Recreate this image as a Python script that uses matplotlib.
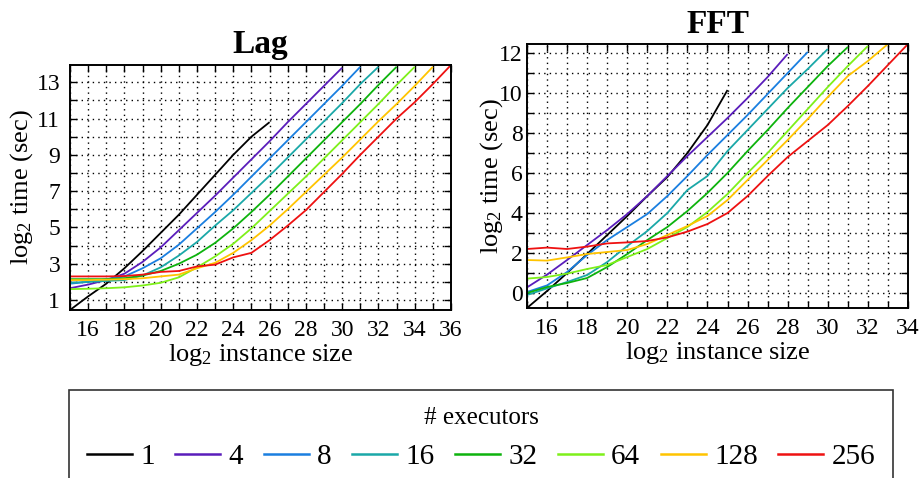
import matplotlib
matplotlib.use("Agg")
import matplotlib.pyplot as plt
from matplotlib.ticker import MultipleLocator
from matplotlib.lines import Line2D

plt.rcParams['font.family'] = ['Liberation Serif', 'DejaVu Serif']
plt.rcParams['mathtext.fontset'] = 'custom'
plt.rcParams['mathtext.rm'] = 'Liberation Serif'
plt.rcParams['mathtext.it'] = 'Liberation Serif:italic'

executors = ['1', '4', '8', '16', '32', '64', '128', '256']
colors = ['#000000', '#5a1dbb', '#1a7fe0', '#1aa8a8', '#0db30d', '#7ef01a', '#ffc400', '#ee1111']

# Lag: log2 time per log2 instance size, starting at size 15
lag_1 = [0.45, 1.2, 1.9, 2.75, 3.7, 4.7, 5.7, 6.8, 7.9, 9.0, 10.0, 10.8]
lag_4 = [1.65, 1.85, 2.1, 2.45, 3.1, 3.9, 4.85, 5.8, 6.75, 7.75, 8.75, 9.75, 10.8, 11.8, 12.8, 13.8]
lag_8 = [1.9, 2.0, 2.15, 2.3, 2.75, 3.3, 4.05, 4.95, 5.85, 6.8, 7.8, 8.8, 9.8, 10.8, 11.8, 12.8, 13.85]
lag_16 = [1.95, 2.0, 2.05, 2.1, 2.35, 2.8, 3.45, 4.2, 5.1, 5.95, 6.9, 7.85, 8.85, 9.85, 10.85, 11.85, 12.9, 13.85]
lag_32 = [2.15, 2.15, 2.15, 2.2, 2.35, 2.6, 3.0, 3.5, 4.15, 4.95, 5.85, 6.8, 7.8, 8.8, 9.8, 10.8, 11.8, 12.85, 13.85]
lag_64 = [1.6, 1.62, 1.65, 1.7, 1.8, 1.95, 2.25, 2.8, 3.4, 4.1, 4.95, 5.9, 6.85, 7.8, 8.8, 9.8, 10.8, 11.8, 12.85, 13.85]
lag_128 = [2.1, 2.1, 2.12, 2.15, 2.2, 2.3, 2.4, 2.75, 3.05, 3.6, 4.3, 5.1, 6.0, 6.95, 7.9, 8.85, 9.85, 10.85, 11.8, 12.8, 13.85]
lag_256 = [2.3, 2.3, 2.3, 2.32, 2.4, 2.55, 2.6, 2.85, 2.95, 3.35, 3.6, 4.3, 5.1, 5.95, 6.95, 7.95, 9.0, 10.0, 11.0, 11.9, 12.9, 13.95]

# FFT
fft_1 = [-0.75, 0.1, 1.0, 1.95, 2.9, 3.85, 4.85, 5.8, 7.0, 8.4, 10.15]
fft_4 = [0.28, 0.92, 1.65, 2.4, 3.15, 3.95, 4.85, 5.85, 6.85, 7.8, 8.75, 9.75, 10.8, 11.95]
fft_8 = [0.05, 0.38, 1.05, 1.9, 2.65, 3.3, 3.95, 4.85, 5.85, 6.9, 7.9, 8.9, 9.95, 11.0, 12.05]
fft_16 = [-0.1, 0.23, 0.55, 0.9, 1.55, 2.35, 3.1, 4.0, 5.15, 5.85, 7.1, 8.15, 9.2, 10.25, 11.2, 12.2]
fft_32 = [0.0, 0.3, 0.5, 0.75, 1.3, 1.95, 2.65, 3.3, 4.1, 5.0, 6.0, 7.1, 8.15, 9.25, 10.3, 11.35, 12.3]
fft_64 = [0.72, 0.8, 0.97, 1.2, 1.4, 1.8, 2.2, 2.75, 3.3, 4.05, 4.95, 6.0, 7.0, 8.1, 9.2, 10.3, 11.35, 12.35]
fft_128 = [1.65, 1.62, 1.78, 1.95, 2.05, 2.15, 2.45, 2.9, 3.35, 3.85, 4.65, 5.65, 6.65, 7.65, 8.7, 9.8, 10.85, 11.6, 12.45]
fft_256 = [2.2, 2.27, 2.2, 2.32, 2.48, 2.53, 2.6, 2.78, 3.07, 3.45, 4.0, 4.85, 5.85, 6.8, 7.6, 8.4, 9.35, 10.35, 11.4, 12.45]

start_size = 15
lag_series = [lag_1, lag_4, lag_8, lag_16, lag_32, lag_64, lag_128, lag_256]
fft_series = [fft_1, fft_4, fft_8, fft_16, fft_32, fft_64, fft_128, fft_256]

W, H = 922, 478
fig = plt.figure(figsize=(W / 100, H / 100), dpi=100)

def px_axes(l, t, r, b):
    return fig.add_axes([l / W, 1 - b / H, (r - l) / W, (b - t) / H])

ax1 = px_axes(70, 65, 451, 310)
ax2 = px_axes(527, 44, 908, 308)

def style(ax, title, xlim, ylim, ymaj, ypad, ylab_x, tpad):
    ax.set_xlim(*xlim)
    ax.set_ylim(*ylim)
    ax.xaxis.set_major_locator(MultipleLocator(2))
    ax.xaxis.set_minor_locator(MultipleLocator(1))
    ax.yaxis.set_major_locator(ymaj)
    ax.yaxis.set_minor_locator(MultipleLocator(1))
    ax.grid(True, which='both', color='black', linestyle=(0, (1, 3)), linewidth=1.0)
    ax.set_axisbelow(True)
    ax.tick_params(which='both', direction='in', top=True, right=True, length=5, width=1, labelsize=17)
    ax.tick_params(axis='x', which='major', pad=7)
    ax.tick_params(axis='y', which='major', pad=ypad)
    for s in ax.spines.values():
        s.set_linewidth(1.4)
    ax.set_title(title, fontsize=24, fontweight='bold', pad=tpad)
    ax.set_xlabel('log$_2$ instance size', fontsize=19, labelpad=1)
    ax.set_ylabel('log$_2$ time (sec)', fontsize=19, va='center')
    ax.yaxis.set_label_coords(ylab_x, 0.5)

for vals, c in zip(lag_series, colors):
    xs = list(range(start_size, start_size + len(vals)))
    ax1.plot(xs, vals, color=c, lw=1.3, solid_capstyle='butt')
for vals, c in zip(fft_series, colors):
    xs = list(range(start_size, start_size + len(vals)))
    ax2.plot(xs, vals, color=c, lw=1.3, solid_capstyle='butt')

style(ax1, 'Lag', (15, 36), (0.45, 13.95), MultipleLocator(2, offset=1), 7, -0.126, 8.5)
style(ax2, 'FFT', (15, 34), (-0.75, 12.45), MultipleLocator(2), 3, -0.092, 7.7)

handles = [Line2D([], [], color=c, lw=1.8) for c in colors]
leg = fig.legend(handles, executors, loc='upper center', bbox_to_anchor=(481 / W, 1 - 390 / H),
                 ncol=8, fontsize=21, title='# executors', title_fontsize=18,
                 handlelength=1.55, handletextpad=0.28, columnspacing=0.7,
                 frameon=True, fancybox=False, borderpad=0.6, borderaxespad=0)
leg.get_frame().set_edgecolor('black')
leg.get_frame().set_linewidth(1.2)

fig.savefig('out.png', dpi=100)
